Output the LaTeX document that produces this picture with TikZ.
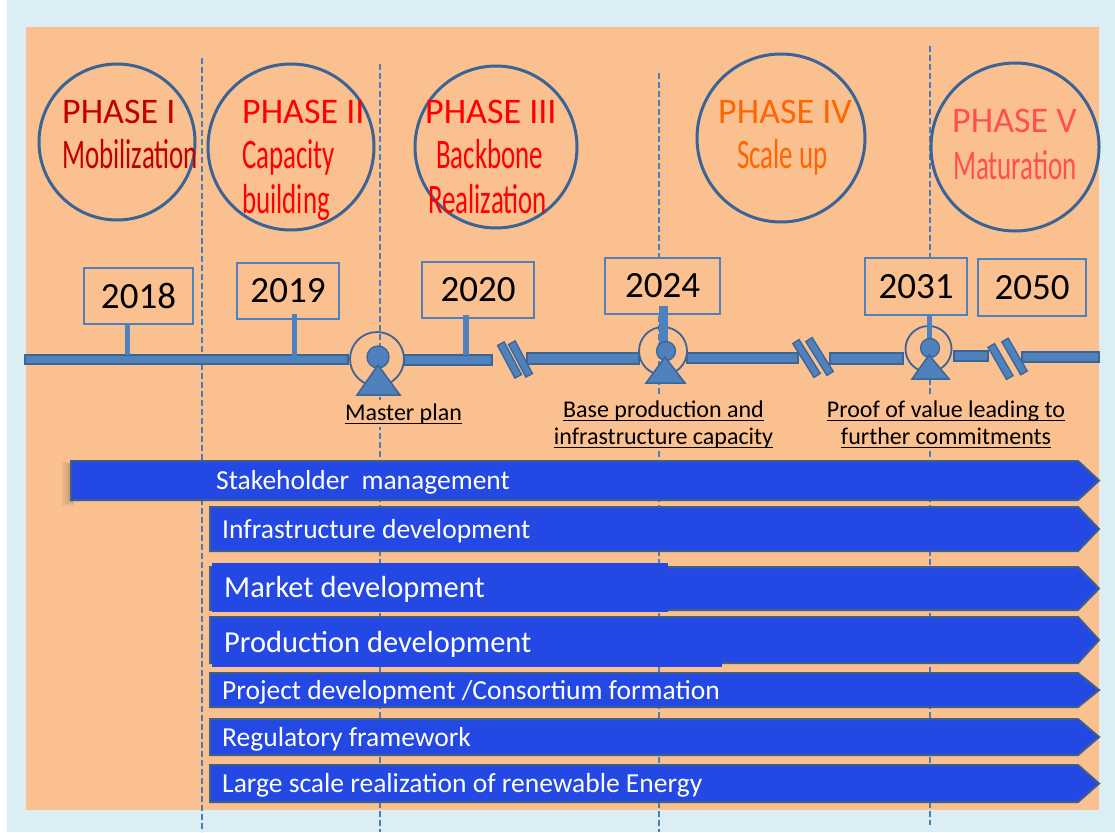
\documentclass[tikz,border=0pt]{standalone}
\usepackage{fontspec}
\setmainfont{Carlito}
\newfontfamily\condfont[FakeStretch=0.64]{Carlito}
\definecolor{lightbg}{HTML}{DAEEF3}
\definecolor{orangebg}{HTML}{FAC090}
\definecolor{dashblue}{HTML}{4A7EBB}
\definecolor{circblue}{HTML}{3B6496}
\definecolor{barfill}{HTML}{4F81BD}
\definecolor{barline}{HTML}{3A6595}
\definecolor{procfill}{HTML}{2448E3}
\definecolor{procline}{HTML}{3C5F8C}
\definecolor{phaseone}{HTML}{C00000}
\definecolor{phasetwo}{HTML}{FF0000}
\definecolor{phasefour}{HTML}{FF6600}
\definecolor{phasefive}{HTML}{FF5050}
\newcommand\procarrow[3]{\draw[procbar] (#1,#2) -- (1078,#2) -- (1099,{(#2+#3)/2}) -- (1078,#3) -- (#1,#3) -- cycle;}
\newcommand\ulnode[1]{\draw[ulinestyle] ([yshift=-3.5pt]#1.base west) -- ([yshift=-3.5pt]#1.base east);}
\begin{document}
\begin{tikzpicture}[x=1pt,y=-1pt,
 dashv/.style={draw=dashblue,line width=1.5pt,dash pattern=on 6pt off 3pt},
 phasec/.style={circle,draw=circblue,line width=3pt,inner sep=0},
 ptitle/.style={anchor=base west,inner sep=0,font=\fontsize{36}{40}\selectfont},
 psub/.style={anchor=base west,inner sep=0,font=\condfont\fontsize{42}{46}\selectfont},
 tlseg/.style={fill=barfill,draw=barline,line width=1.3pt},
 tlslash/.style={rectangle,fill=barfill,draw=barline,line width=1.3pt,minimum height=7.5pt,inner sep=0},
 tlring/.style={circle,draw=barline,line width=1.8pt,inner sep=0},
 tldot/.style={circle,fill=barfill,draw=barline,line width=1.3pt,inner sep=0},
 tltri/.style={fill=barfill,draw=barline,line width=1.5pt,line join=miter},
 yearbox/.style={rectangle,draw=barfill,line width=1.2pt,fill=orangebg,minimum height=56pt,inner sep=0,font=\fontsize{37}{40}\selectfont},
 yearstem/.style={draw=barfill,line width=5pt},
 mslabel/.style={anchor=base,fill=orangebg,inner xsep=0pt,inner ysep=3pt,font=\fontsize{24}{28}\selectfont},
 ulinestyle/.style={draw=black,line width=1.5pt},
 procbar/.style={fill=procfill,draw=procline,line width=2pt,line join=miter},
 proctext/.style={anchor=base west,inner sep=0,text=white,font=\fontsize{27.5}{32}\selectfont},
 proctextbig/.style={anchor=base west,inner sep=0,text=white,font=\fontsize{30.5}{35}\selectfont}]
\useasboundingbox (0,0) rectangle (1115,832);
\fill[white] (0,0) rectangle (1115,832);
\fill[lightbg] (7,0) rectangle (1115,832);
\fill[orangebg] (26,27) rectangle (1099,810);
% dashed phase separators
\draw[dashv] (202,58) -- (202,832);
\draw[dashv] (380,64) -- (380,832);
\draw[dashv] (659,73) -- (659,832);
\draw[dashv] (930,46) -- (930,825);
% phase circles
\node[phasec,minimum size=156pt] (c1) at (117,142) {};
\node[phasec,minimum size=166pt] (c2) at (291,147) {};
\node[phasec,minimum size=162pt] (c3) at (496,147) {};
\node[phasec,minimum size=168pt] (c4) at (781,138) {};
\node[phasec,minimum size=168pt] (c5) at (1015,147) {};
% phase texts
\node[ptitle,text=phaseone] (p1a) at (62,123) {PHASE I};
\node[psub,text=phaseone] (p1b) at (62,168) {Mobilization};
\node[ptitle,text=phasetwo] (p2a) at (242,123) {PHASE II};
\node[psub,text=phasetwo] (p2b) at (242,168) {Capacity};
\node[psub,text=phasetwo] (p2c) at (242,213) {building};
\node[ptitle,text=phasetwo] (p3a) at (425,123) {PHASE III};
\node[psub,text=phasetwo] (p3b) at (436,168) {Backbone};
\node[psub,text=phasetwo] (p3c) at (428,213) {Realization};
\node[ptitle,text=phasefour] (p4a) at (718,123) {PHASE IV};
\node[psub,text=phasefour] (p4b) at (737,168) {Scale up};
\node[ptitle,text=phasefive] (p5a) at (952,132) {PHASE V};
\node[psub,text=phasefive] (p5b) at (953,179) {Maturation};
% timeline segments
\filldraw[tlseg] (25,355) rectangle (348,364);
\filldraw[tlseg] (404,355) rectangle (492,365);
\filldraw[tlseg] (527,353) rectangle (639,364);
\filldraw[tlseg] (687,353) rectangle (798,363);
\filldraw[tlseg] (830,353) rectangle (903,364);
\filldraw[tlseg] (954,351) rectangle (988,361);
\filldraw[tlseg] (1022,352) rectangle (1099,362);
% breaks
\node[tlslash,rotate=-62,minimum width=37pt] (b1a) at (509.5,360) {};
\node[tlslash,rotate=-62,minimum width=37pt] (b1b) at (520.5,359) {};
\node[tlslash,rotate=-58,minimum width=40pt] (b2a) at (806.5,358.5) {};
\node[tlslash,rotate=-58,minimum width=40pt] (b2b) at (819.5,356.5) {};
\node[tlslash,rotate=-60,minimum width=37pt] (b3a) at (1000.5,361.5) {};
\node[tlslash,rotate=-60,minimum width=38pt] (b3b) at (1014.5,356.5) {};
% milestone rings
\node[tlring,minimum size=54pt] (ms1) at (377,359) {};
\node[tlring,minimum size=48pt] (ms2) at (663,351) {};
\node[tlring,minimum size=46pt] (ms3) at (928.5,349) {};
% year boxes
\node[yearbox,minimum width=109pt] (y2018) at (138.5,296) {2018};
\node[yearbox,minimum width=102pt] (y2019) at (288,291) {2019};
\node[yearbox,minimum width=112pt] (y2020) at (478,290) {2020};
\node[yearbox,minimum width=115pt] (y2024) at (662.5,286) {2024};
\node[yearbox,minimum width=102pt,minimum height=57pt] (y2031) at (916,286.5) {2031};
\node[yearbox,minimum width=108pt,minimum height=57pt] (y2050) at (1032,287.5) {2050};
% stems
\coordinate (s18) at (127.5,355);
\coordinate (s19) at (294.5,357);
\coordinate (s20) at (465.5,355);
\coordinate (s24) at (663.5,353);
\coordinate (s31) at (929.5,347);
\draw[yearstem] (y2018.south -| s18) -- (s18);
\draw[yearstem,line width=5.5pt] ([yshift=6pt]y2019.south -| s19) -- (s19);
\draw[yearstem,line width=6pt] ([yshift=4pt]y2020.south -| s20) -- (s20);
\draw[yearstem,line width=8.5pt] ([yshift=9pt]y2024.south -| s24) -- (s24);
\draw[yearstem] (y2031.south -| s31) -- (s31);
% dots and triangles
\node[tldot,minimum size=22pt] (d1) at (378,357) {};
\node[tldot,minimum size=19pt] (d2) at (666,351) {};
\node[tldot,minimum size=19pt] (d3) at (930,348) {};
\filldraw[tltri] (378,365) -- (357,395) -- (400,395) -- cycle;
\filldraw[tltri] (665,357) -- (646,383) -- (685,383) -- cycle;
\filldraw[tltri] (929,355) -- (912,379) -- (949,379) -- cycle;
% milestone labels
\node[mslabel] (l1) at (403.5,420) {Master plan};
\node[mslabel] (l2a) at (663.5,417) {Base production and};
\node[mslabel] (l2b) at (663.5,444) {infrastructure capacity};
\node[mslabel] (l3a) at (946,417) {Proof of value leading to};
\node[mslabel] (l3b) at (946,444) {further commitments};
\ulnode{l1}
\ulnode{l2a}
\ulnode{l2b}
\ulnode{l3a}
\ulnode{l3b}
% process arrows
\fill[black,opacity=0.05] (62,462) rectangle (74,506);
\fill[black,opacity=0.06] (65,463) rectangle (74,504);
\fill[black,opacity=0.07] (68,464) rectangle (74,502);
\procarrow{71}{461}{500}
\node[proctext] (t1) at (216,489) {Stakeholder~ management};
\procarrow{210}{507}{551}
\node[proctext] (t2) at (222,538) {Infrastructure development};
\procarrow{210}{567}{610}
\fill[procfill] (212,563) rectangle (668,612);
\node[proctextbig] (t3) at (224,597) {Market development};
\procarrow{210}{617}{663}
\fill[procfill] (212,619) rectangle (722,667);
\node[proctextbig] (t4) at (224,652) {Production development};
\procarrow{210}{673}{707}
\node[proctext] (t5) at (222,699) {Project development /Consortium formation};
\procarrow{210}{719}{755}
\node[proctext] (t6) at (222,746) {Regulatory framework};
\procarrow{210}{765}{802}
\node[proctext] (t7) at (222,792) {Large scale realization of renewable Energy};
\end{tikzpicture}
\end{document}
